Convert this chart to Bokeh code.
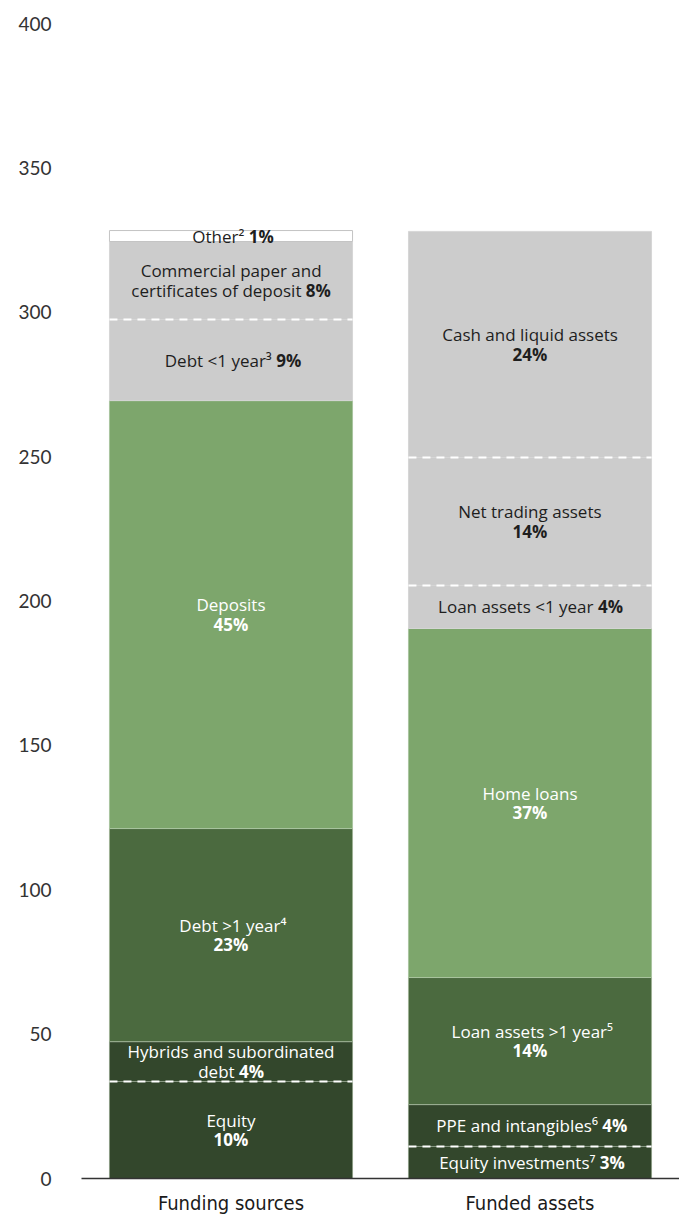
from bokeh.plotting import figure
from bokeh.models import ColumnDataSource, FactorRange, Range1d, FixedTicker
from bokeh.transform import dodge
from bokeh.core.properties import value
from bokeh.embed import file_html
from bokeh.resources import INLINE

# ---------------- data ----------------
categories = ["Funding sources", "Funded assets"]
y_ticks = [0, 50, 100, 150, 200, 250, 300, 350, 400]

# bottom -> top
funding_labels = ["Equity", "Hybrids and subordinated\ndebt", "Debt >1 year\u2074", "Deposits",
                  "Debt <1 year\u00b3", "Commercial paper and\ncertificates of deposit", "Other\u00b2"]
funding_values = [33.6, 13.8, 73.8, 148.2, 28.1, 27.0, 3.8]
funding_pcts = ["10%", "4%", "23%", "45%", "9%", "8%", "1%"]
funding_pct_inline = [False, True, False, False, True, True, True]
funding_groups = ["dark", "dark", "mid", "light", "grey", "grey", "other"]
funding_dashed_above = [True, False, False, False, True, False, False]

assets_labels = ["Equity investments\u2077", "PPE and intangibles\u2076", "Loan assets >1 year\u2075", "Home loans",
                 "Loan assets <1 year", "Net trading assets", "Cash and liquid assets"]
assets_values = [11.1, 14.5, 44.0, 120.9, 14.9, 44.3, 78.3]
assets_pcts = ["3%", "4%", "14%", "37%", "4%", "14%", "24%"]
assets_pct_inline = [True, True, False, False, True, False, False]
assets_groups = ["dark", "dark", "mid", "light", "grey", "grey", "grey"]
assets_dashed_above = [True, False, False, False, True, True, False]

# ---------------- styles ----------------
FILL = {"dark": "#33472C", "mid": "#4B6A3F", "light": "#7DA66C", "grey": "#CCCCCC", "other": "#FFFFFF"}
LINE = {"dark": "#8A9A84", "mid": "#9DB094", "light": "#A9C49E", "grey": "#D6D6D6", "other": "#C4C4C4"}
TXT = {"dark": "#FFFFFF", "mid": "#FFFFFF", "light": "#FFFFFF", "grey": "#1E1E1E", "other": "#1E1E1E"}
BAR_W = 0.813
FONT = "Open Sans"
FS = 17
LINE_H = 19.5

# approximate Open Sans advance widths (em)
W = {' ': .26, 'a': .556, 'b': .613, 'c': .476, 'd': .613, 'e': .561, 'f': .339, 'g': .548, 'h': .614,
     'i': .253, 'j': .253, 'k': .525, 'l': .253, 'm': .930, 'n': .614, 'o': .604, 'p': .613, 'q': .613,
     'r': .408, 's': .477, 't': .353, 'u': .614, 'v': .501, 'w': .778, 'x': .524, 'y': .502, 'z': .477,
     'C': .634, 'D': .722, 'E': .550, 'H': .728, 'L': .560, 'N': .738, 'O': .781, 'P': .586,
     '<': .572, '>': .572, '%': .828}


def tw(s, bold=False):
    t = 0.0
    for ch in s:
        if ch.isdigit():
            t += .572
        elif ch in "\u00b2\u00b3\u2074\u2075\u2076\u2077":
            t += .36
        else:
            t += W.get(ch, .55)
    return t * FS * (1.04 if bold else 1.0)


bars = dict(cat=[], bottom=[], top=[], fill=[], line=[])
dash = dict(cat=[], y=[])
txt = dict(cat=[], y=[], reg=[], bold=[], xo=[], yo=[], color=[])

for cat, labels, vals, pcts, inline, groups, dashed in [
        (categories[0], funding_labels, funding_values, funding_pcts, funding_pct_inline, funding_groups, funding_dashed_above),
        (categories[1], assets_labels, assets_values, assets_pcts, assets_pct_inline, assets_groups, assets_dashed_above)]:
    base = 0.0
    for lab, v, pc, inl, g, d in zip(labels, vals, pcts, inline, groups, dashed):
        top = base + v
        bars["cat"].append(cat); bars["bottom"].append(base); bars["top"].append(top)
        bars["fill"].append(FILL[g]); bars["line"].append(LINE[g])
        if d:
            dash["cat"].append(cat); dash["y"].append(top)
        parts = lab.split("\n")
        lines = [(p, "") for p in parts]
        if inl:
            lines[-1] = (parts[-1] + " ", pc)
        else:
            lines.append(("", pc))
        n = len(lines)
        for i, (r, b) in enumerate(lines):
            txt["cat"].append(cat); txt["y"].append((base + top) / 2)
            txt["reg"].append(r); txt["bold"].append(b)
            txt["xo"].append((tw(r) - tw(b, True)) / 2)
            txt["yo"].append((i - (n - 1) / 2) * LINE_H)
            txt["color"].append(TXT[g])
        base = top

p = figure(x_range=FactorRange(factors=categories, range_padding=0), y_range=Range1d(0, 400),
           width=679, height=1217, output_backend="svg", toolbar_location=None,
           min_border_left=81, min_border_right=0, min_border_top=23, min_border_bottom=39)
p.outline_line_color = None
p.xgrid.grid_line_color = None
p.ygrid.grid_line_color = None
p.background_fill_color = "white"

p.vbar(x="cat", bottom="bottom", top="top", width=BAR_W, fill_color="fill", line_color="line",
       line_width=1, source=ColumnDataSource(bars))

hw = BAR_W / 2
p.segment(x0=dodge("cat", -hw, range=p.x_range), x1=dodge("cat", hw, range=p.x_range),
          y0="y", y1="y", line_color="white", line_width=2, line_dash="8 6",
          source=ColumnDataSource(dash))

ts = ColumnDataSource(txt)
p.text(x="cat", y="y", text="reg", x_offset="xo", y_offset="yo", text_color="color",
       text_align="right", text_baseline="middle", text_font=value(FONT),
       text_font_size=f"{FS}px", source=ts)
p.text(x="cat", y="y", text="bold", x_offset="xo", y_offset="yo", text_color="color",
       text_align="left", text_baseline="middle", text_font=value(FONT), text_font_style="bold",
       text_font_size=f"{FS}px", source=ts)

# axes
p.yaxis.ticker = FixedTicker(ticks=y_ticks)
p.yaxis.axis_line_color = None
p.yaxis.major_tick_line_color = None
p.yaxis.minor_tick_line_color = None
p.yaxis.major_label_standoff = 24
p.yaxis.major_label_text_font = "Lato"
p.yaxis.major_label_text_font_size = "19px"
p.yaxis.major_label_text_color = "#333333"

p.xaxis.axis_line_color = "#333333"
p.xaxis.axis_line_width = 1.5
p.xaxis.major_tick_line_color = None
p.xaxis.minor_tick_line_color = None
p.xaxis.major_label_standoff = 6
p.xaxis.major_label_text_font = "DejaVu Sans Condensed"
p.xaxis.major_label_text_font_size = "20px"
p.xaxis.major_label_text_color = "#1a1a1a"

open("out.html", "w").write(file_html(p, INLINE))
